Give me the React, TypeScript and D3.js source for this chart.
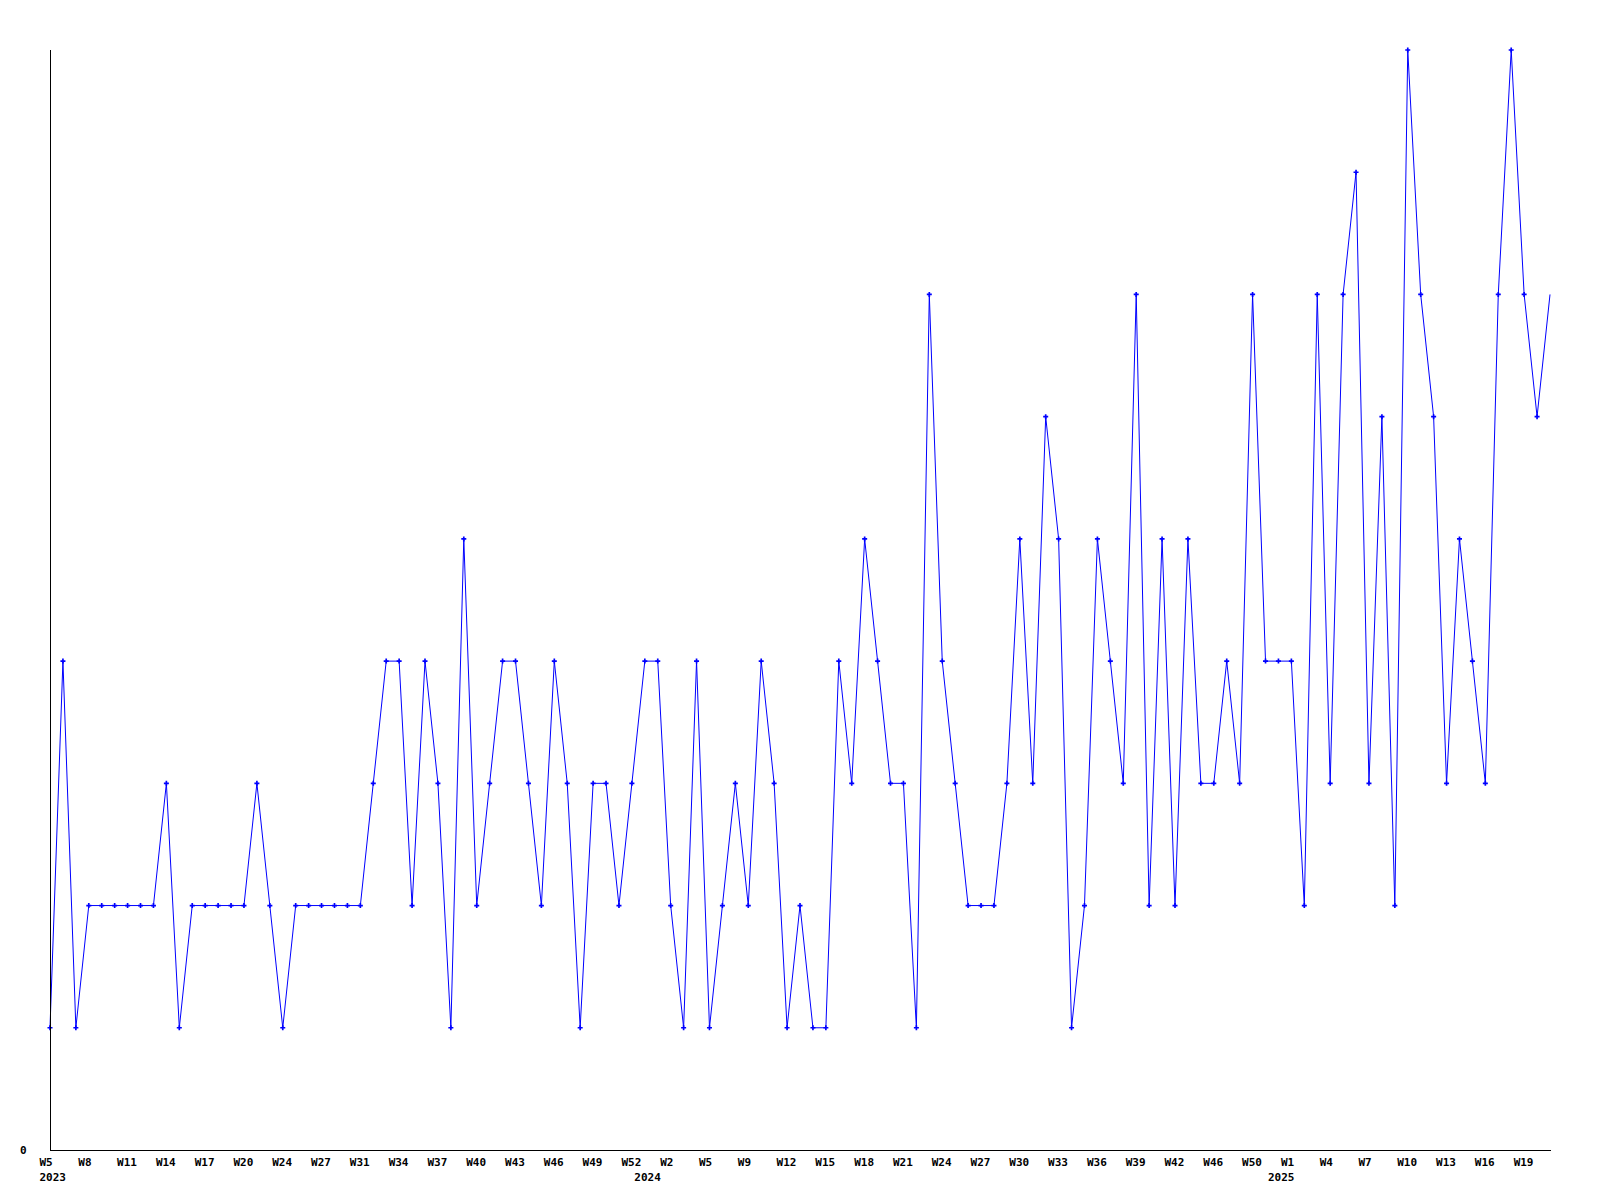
import React from "react";
import * as d3 from "d3";

// ---- data ----
const years: number[] = [
  2023,2023,2023,2023,2023,2023,2023,2023,2023,2023,2023,2023,2023,2023,2023,2023,2023,2023,2023,2023,
  2023,2023,2023,2023,2023,2023,2023,2023,2023,2023,2023,2023,2023,2023,2023,2023,2023,2023,2023,2023,
  2023,2023,2023,2023,2023,2023,
  2024,2024,2024,2024,2024,2024,2024,2024,2024,2024,2024,2024,2024,2024,2024,2024,2024,2024,2024,2024,
  2024,2024,2024,2024,2024,2024,2024,2024,2024,2024,2024,2024,2024,2024,2024,2024,2024,2024,2024,2024,
  2024,2024,2024,2024,2024,2024,2024,2024,2024,
  2025,2025,2025,2025,2025,2025,2025,2025,2025,2025,2025,2025,2025,2025,2025,2025,2025,2025,2025,2025,
  2025,2025,
];
const weeks: number[] = [
  5,6,7,8,9,10,11,12,13,14,15,16,17,18,19,20,21,22,24,25,
  26,27,28,29,31,32,33,34,35,36,37,38,39,40,41,42,43,44,45,46,
  47,48,49,50,51,52,
  0,1,2,3,4,5,6,7,9,10,11,12,13,14,15,16,17,18,19,20,
  21,22,23,24,25,26,27,28,29,30,31,32,33,34,35,36,37,38,39,40,
  41,42,43,44,46,47,48,50,51,
  0,1,2,3,4,5,6,7,8,9,10,11,12,13,14,15,16,17,18,19,
  20,21,
];
const values: number[] = [
  1,4,1,2,2,2,2,2,2,3,1,2,2,2,2,2,3,2,1,2,
  2,2,2,2,2,3,4,4,2,4,3,1,5,2,3,4,4,3,2,
  4,3,1,3,3,2,3,4,4,2,1,4,1,2,3,2,4,3,1,2,
  1,1,4,3,5,4,3,3,1,7,4,3,2,2,2,3,5,3,6,
  5,1,2,5,4,3,7,2,5,2,5,3,3,4,3,7,4,4,4,
  2,7,3,7,8,3,6,2,9,7,6,3,5,4,3,7,9,7,6,7,
];
const yTicks: number[] = [0];
const labelEvery = 3;

const W = 1600;
const H = 1200;
const LEFT = 50;
const RIGHT = 1550;
const TOP = 50;
const BOTTOM = 1150;

export default function App() {
  const keys = values.map((_, i) => `${years[i]}-W${weeks[i]}`);
  const x = d3.scalePoint<string>().domain(keys).range([LEFT, RIGHT]);
  const y = d3.scaleLinear().domain([0, 9]).range([BOTTOM, TOP]);
  const line = d3
    .line<number>()
    .x((_, i) => x(keys[i]) as number)
    .y((d) => y(d));
  const cross = d3.symbol().type(d3.symbolCross).size(14)() as string;

  const font = "'DejaVu Sans Mono', monospace";
  const yearStarts = keys
    .map((k, i) => ({ k, i }))
    .filter(({ i }) => i === 0 || years[i] !== years[i - 1]);

  return (
    <svg
      width={W}
      height={H}
      style={{ position: "absolute", left: 0, top: 0, background: "#fff" }}
    >
      <rect x={0} y={0} width={W} height={H} fill="#fff" />
      <path
        d={line(values) as string}
        fill="none"
        stroke="#0000ff"
        strokeWidth={1}
      />
      {values.slice(0, values.length - 1).map((v, i) => (
        <path
          key={i}
          d={cross}
          transform={`translate(${x(keys[i])},${y(v)})`}
          fill="#0000ff"
        />
      ))}
      <line x1={LEFT + 0.5} x2={LEFT + 0.5} y1={TOP} y2={BOTTOM} stroke="#000" strokeWidth={1} />
      <line x1={LEFT} x2={RIGHT + 1} y1={BOTTOM + 0.5} y2={BOTTOM + 0.5} stroke="#000" strokeWidth={1} />
      {yTicks.map((t) => (
        <text
          key={t}
          x={20}
          y={y(t) + 4}
          fontFamily={font}
          fontWeight="bold"
          fontSize={11}
          fill="#000"
        >
          {t}
        </text>
      ))}
      {keys.map((k, i) =>
        i % labelEvery === 0 ? (
          <text
            key={k}
            x={(x(k) as number) - 10.5}
            y={1166}
            fontFamily={font}
            fontWeight="bold"
            fontSize={11}
            fill="#000"
          >
            {`W${weeks[i]}`}
          </text>
        ) : null
      )}
      {yearStarts.map(({ k, i }) => (
        <text
          key={"y" + k}
          x={(x(k) as number) - 10.5}
          y={1181}
          fontFamily={font}
          fontWeight="bold"
          fontSize={11}
          fill="#000"
        >
          {years[i]}
        </text>
      ))}
    </svg>
  );
}
